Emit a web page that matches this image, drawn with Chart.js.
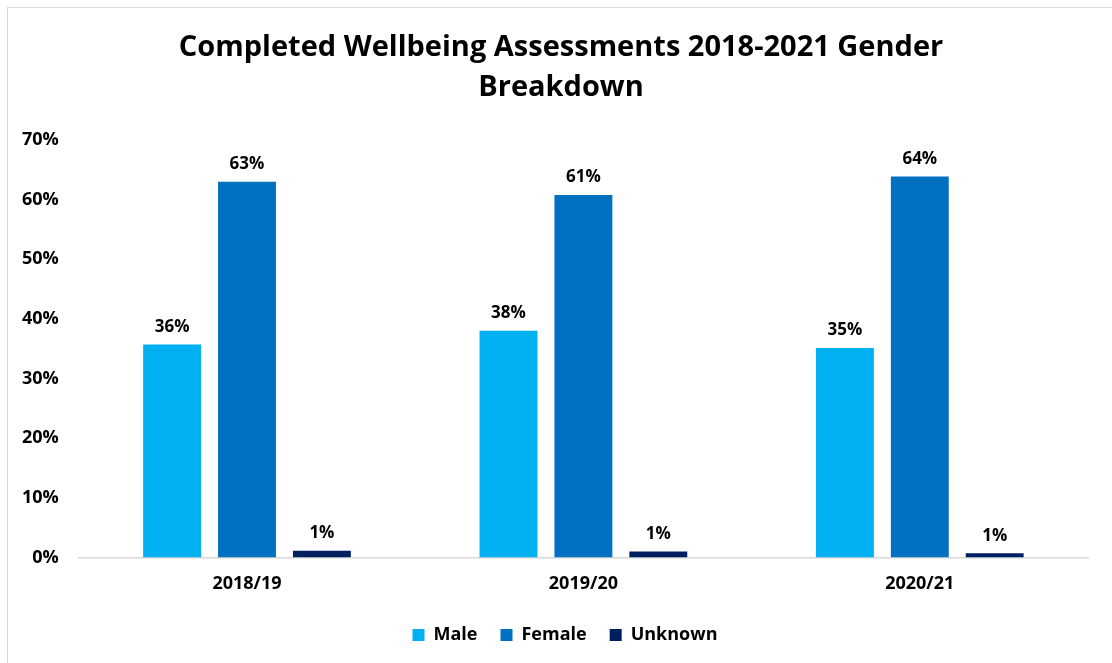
<!DOCTYPE html>
<html>
<head>
<meta charset="utf-8">
<title>Completed Wellbeing Assessments 2018-2021 Gender Breakdown</title>
<script src="https://cdn.jsdelivr.net/npm/chart.js@4.4.0/dist/chart.umd.min.js"></script>
<style>
  body { margin: 0; background: #fff; }
  #frame { position: absolute; left: 7px; top: 7px; width: 1120px; height: 680px; border: 1px solid #d9d9d9; box-sizing: border-box; }
  #wrap { position: absolute; left: 0; top: 0; width: 1112px; height: 663px; }
</style>
</head>
<body>
<div id="frame"></div>
<div id="wrap"><canvas id="chart_gender"></canvas></div>
<script>
// values (percent)
var years = ["2018/19", "2019/20", "2020/21"];
var male = [35.7, 38.0, 35.1];
var female = [63.0, 60.8, 63.9];
var unknown = [1.1, 1.0, 0.7];
var yTicks = [0, 10, 20, 30, 40, 50, 60, 70];

var fontFam = "'Open Sans', 'Noto Sans', sans-serif";

// small plugin to write the value over each bar
var barLabels = {
    id: "barLabels",
    afterDatasetsDraw: function(chart) {
        var ctx = chart.ctx;
        ctx.save();
        ctx.font = "bold 17px " + fontFam;
        ctx.fillStyle = "#000";
        ctx.textAlign = "center";
        ctx.textBaseline = "bottom";
        chart.data.datasets.forEach(function(ds, i) {
            var meta = chart.getDatasetMeta(i);
            meta.data.forEach(function(bar, j) {
                ctx.fillText(Math.round(ds.data[j]) + "%", bar.x, bar.y - 9);
            });
        });
        ctx.restore();
    }
};

// title and legend are centred on the whole frame in the original, not on the plot
var centreOnFrame = {
    id: "centreOnFrame",
    afterLayout: function(chart) {
        if (chart.titleBlock) {
            chart.titleBlock.left += 12;
            chart.titleBlock.right += 12;
        }
        if (chart.legend) {
            chart.legend.left += 16;
            chart.legend.right += 16;
        }
    }
};

new Chart(document.getElementById("chart_gender"), {
    type: "bar",
    data: {
        labels: years,
        datasets: [
            { label: "Male", data: male, backgroundColor: "#00b0f0" },
            { label: "Female", data: female, backgroundColor: "#0070c0" },
            { label: "Unknown", data: unknown, backgroundColor: "#002060" }
        ]
    },
    options: {
        responsive: true,
        maintainAspectRatio: false,
        animation: false,
        categoryPercentage: 0.668,
        barPercentage: 0.773,
        layout: { padding: { left: 10, right: 24, top: 0, bottom: 9 } },
        plugins: {
            title: {
                display: true,
                text: ["Completed Wellbeing Assessments 2018-2021 Gender", "Breakdown"],
                color: "#000",
                font: { family: fontFam, size: 29, weight: "bold", lineHeight: 1.38 },
                padding: { top: 28, bottom: 32 }
            },
            legend: {
                position: "bottom",
                labels: {
                    color: "#000",
                    font: { family: fontFam, size: 18, weight: "bold" },
                    boxWidth: 12,
                    boxHeight: 12,
                    padding: 23
                }
            },
            tooltip: { enabled: false }
        },
        scales: {
            x: {
                grid: { display: false },
                border: { display: true, color: "#d9d9d9", width: 1.5 },
                ticks: { color: "#000", font: { family: fontFam, size: 18, weight: "bold" }, padding: 8 }
            },
            y: {
                min: 0,
                max: 70,
                afterBuildTicks: function(axis) {
                    axis.ticks = yTicks.map(function(v) { return { value: v }; });
                },
                grid: { display: false },
                border: { display: false },
                ticks: {
                    color: "#000",
                    font: { family: fontFam, size: 18, weight: "bold" },
                    padding: 12,
                    callback: function(v) { return v + "%"; }
                }
            }
        }
    },
    plugins: [barLabels, centreOnFrame]
});
</script>
</body>
</html>
